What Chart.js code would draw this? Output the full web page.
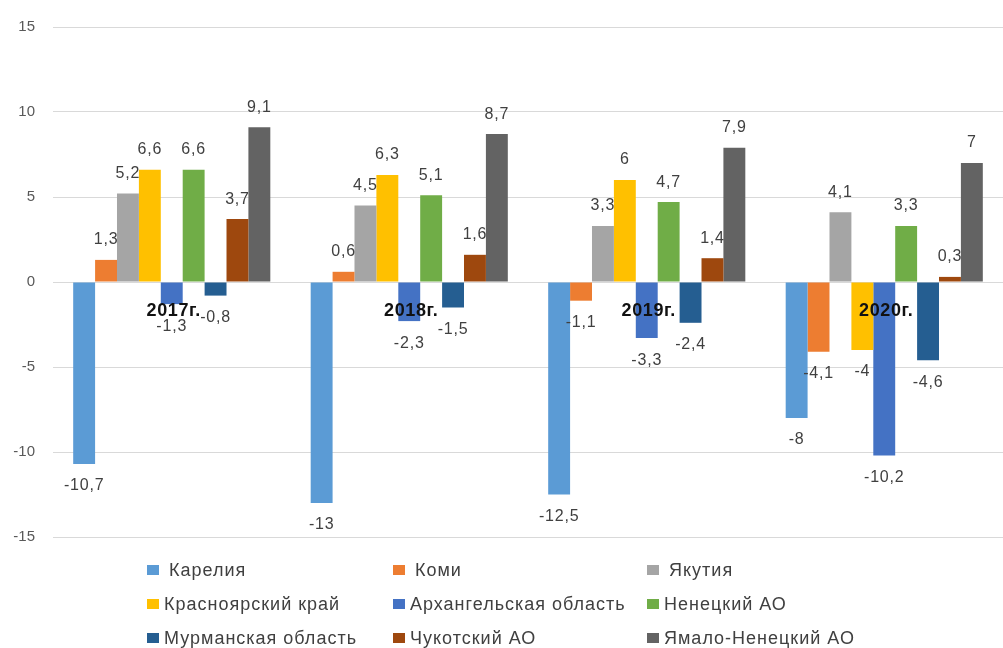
<!DOCTYPE html>
<html>
<head>
<meta charset="utf-8">
<script src="https://cdn.jsdelivr.net/npm/chart.js@4/dist/chart.umd.min.js"></script>
<style>
  html, body { margin: 0; padding: 0; background: #fff; }
  #wrap { position: relative; width: 1003px; height: 648px; overflow: hidden; }
  #chart { position: absolute; left: 0; top: 0; }
  .leg { position: absolute; display: flex; align-items: center; font-family: "Liberation Sans", Arial, sans-serif; font-size: 18px; letter-spacing: 1px; color: #404040; white-space: nowrap; line-height: 18px; }
  .leg i { display: inline-block; width: 12px; height: 10px; margin-right: 5px; }
</style>
</head>
<body>
<div id="wrap">
  <canvas id="chart" width="1003" height="648"></canvas>
</div>
<script>
(function(){
    "use strict";

    const categories = ['2017г.', '2018г.', '2019г.', '2020г.'];
    const regions = ['Карелия', 'Коми', 'Якутия', 'Красноярский край', 'Архангельская область', 'Ненецкий АО', 'Мурманская область', 'Чукотский АО', 'Ямало-Ненецкий АО'];
    const colors = ['#5B9BD5', '#ED7D31', '#A5A5A5', '#FFC000', '#4472C4', '#70AD47', '#255E91', '#9E480E', '#636363'];

    const karelia = [-10.7, -13, -12.5, -8];
    const komi = [1.3, 0.6, -1.1, -4.1];
    const yakutia = [5.2, 4.5, 3.3, 4.1];
    const krasnoyarsk = [6.6, 6.3, 6, -4];
    const arkhangelsk = [-1.3, -2.3, -3.3, -10.2];
    const nenets = [6.6, 5.1, 4.7, 3.3];
    const murmansk = [-0.8, -1.5, -2.4, -4.6];
    const chukotka = [3.7, 1.6, 1.4, 0.3];
    const yamal = [9.1, 8.7, 7.9, 7];

    const yTicks = [-15, -10, -5, 0, 5, 10, 15];

    const series = [karelia, komi, yakutia, krasnoyarsk, arkhangelsk, nenets, murmansk, chukotka, yamal];

    const fmt = v => String(v).replace('.', ',');

    // value labels above/below bars, then the year labels on top of everything
    const labelPlugin = {
        id: 'barLabels',
        afterDatasetsDraw(chart) {
            const ctx = chart.ctx;
            ctx.save();
            ctx.font = '16px "Liberation Sans", Arial, sans-serif';
            ctx.letterSpacing = '0.8px';
            ctx.fillStyle = '#404040';
            ctx.textAlign = 'center';
            ctx.textBaseline = 'middle';
            chart.data.datasets.forEach((ds, i) => {
                const meta = chart.getDatasetMeta(i);
                meta.data.forEach((bar, j) => {
                    const v = ds.data[j];
                    const y = v >= 0 ? bar.y - 20 : bar.y + 22;
                    ctx.fillText(fmt(v), bar.x, y);
                });
            });

            const xs = chart.scales.x, ys = chart.scales.y;
            ctx.font = 'bold 18px "Liberation Sans", Arial, sans-serif';
            ctx.letterSpacing = '0.6px';
            ctx.fillStyle = '#111';
            categories.forEach((c, j) => {
                ctx.fillText(c, xs.getPixelForValue(j) + 2, ys.getPixelForValue(0) + 29);
            });
            ctx.restore();
        }
    };

    const ctx = document.getElementById('chart').getContext('2d');
    new Chart(ctx, {
        type: 'bar',
        data: {
            labels: categories,
            datasets: series.map((d, i) => ({
                label: regions[i],
                data: d,
                backgroundColor: colors[i],
                categoryPercentage: 0.83,
                barPercentage: 1.0
            }))
        },
        options: {
            responsive: false,
            animation: false,
            layout: { padding: { top: 20, right: 0, bottom: 111, left: 0 } },
            plugins: { legend: { display: false }, tooltip: { enabled: false } },
            scales: {
                x: {
                    position: { y: 0 },
                    grid: { display: false, drawTicks: false },
                    border: { display: false },
                    ticks: { display: false }
                },
                y: {
                    min: yTicks[0],
                    max: yTicks[yTicks.length - 1],
                    afterBuildTicks: scale => { scale.ticks = yTicks.map(v => ({ value: v })); },
                    afterFit: scale => { scale.width = 53; },
                    grid: { color: '#d9d9d9', drawTicks: false },
                    border: { display: false },
                    ticks: { color: '#595959', font: { family: '"Liberation Sans", Arial, sans-serif', size: 15 }, padding: 18 }
                }
            }
        },
        plugins: [labelPlugin]
    });

    // legend in three columns, like the original
    const wrap = document.getElementById('wrap');
    const colX = [147, 393, 647];
    const rowY = [561, 595, 629];
    regions.forEach((name, i) => {
        const el = document.createElement('div');
        el.className = 'leg';
        el.style.left = colX[i % 3] + 'px';
        el.style.top = rowY[Math.floor(i / 3)] + 'px';
        el.innerHTML = `<i style="background:${colors[i]}${i < 3 ? ';margin-right:10px' : ''}"></i>${name}`;
        wrap.appendChild(el);
    });
})();
</script>
</body>
</html>
